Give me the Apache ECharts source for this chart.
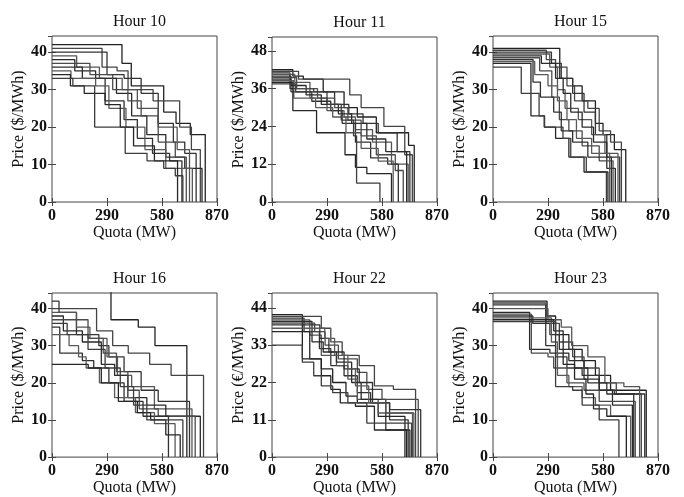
<!DOCTYPE html>
<html>
<head>
<meta charset="utf-8">
<script src="https://cdn.jsdelivr.net/npm/echarts@6/dist/echarts.min.js"></script>
<style>html,body{margin:0;padding:0;background:#fff}#c{width:684px;height:497px}</style>
</head>
<body>
<div id="c"></div>
<script>
// ---- data (quota MW, price) : each curve is a list of step corners ----
const panelTitles = ['Hour 10', 'Hour 11', 'Hour 15', 'Hour 16', 'Hour 22', 'Hour 23'];
const yNames = ['Price ($/MWh)', 'Price ($/MWh)', 'Price ($/MWh)', 'Price ($/MWh)', 'Price (\u20AC/MWh)', 'Price ($/MWh)'];
const xTickInterval = 290;
const xMax = 870;
const yMaxes = [44.3, 52.4, 44.3, 44.2, 48.4, 44.2];
const yIntervals = [10, 12, 10, 10, 11, 10];

const hour10 = [
  [[0,42],[369,37],[418,31],[589,24],[654,21],[729,18],[808,0]],
  [[0,41],[264,36],[343,35],[401,30],[533,27],[673,20],[735,14],[782,0]],
  [[0,40],[290,34],[380,33],[470,29],[560,21],[640,16],[700,13],[760,0]],
  [[0,39],[130,36],[250,33],[370,30],[450,25],[560,20],[660,14],[725,0]],
  [[0,38],[120,35],[230,33],[340,29],[420,23],[500,18],[600,12],[700,9],[791,0]],
  [[0,37],[200,34],[320,30],[400,27],[470,23],[560,16],[650,12],[708,0]],
  [[0,36],[160,33],[280,27],[380,22],[450,17],[530,13],[620,11],[685,0]],
  [[0,35],[100,33],[230,31],[300,25],[390,20],[490,14],[600,9],[740,0]],
  [[0,34],[97,31],[170,29],[280,26],[360,20],[430,15],[540,11],[662,0]],
  [[0,33],[110,31],[225,20],[386,13],[501,11],[589,9],[650,7],[690,0]]
];
const hour11 = [
  [[0,42],[110,40],[165,39],[270,35],[380,30],[450,27],[550,22],[720,18],[750,0]],
  [[0,41.5],[140,39],[410,34],[470,30],[590,24],[700,15],[740,0]],
  [[0,41],[95,36],[220,35],[330,31],[405,28],[480,25],[560,22],[660,16],[727,0]],
  [[0,40.5],[120,38],[200,33],[290,29],[380,27],[440,23],[530,19],[630,12],[718,0]],
  [[0,40],[100,37],[180,34],[260,31],[350,28],[420,25],[500,20],[600,16],[710,0]],
  [[0,39.5],[130,36],[240,33],[330,30],[400,26],[470,21],[550,15],[650,10],[692,0]],
  [[0,39],[100,35],[210,32],[310,29],[370,25],[440,19],[520,14],[610,12],[666,0]],
  [[0,38.5],[115,33],[230,30],[320,27],[390,22],[470,17],[560,13],[639,0]],
  [[0,38],[110,29],[235,22],[385,15],[440,11],[500,9],[630,0]],
  [[0,37.5],[125,35],[290,31],[365,26],[430,21],[446,6],[569,0]]
];
const hour15 = [
  [[0,41],[352,33],[420,31],[470,27],[540,21],[580,18],[640,14],[700,0]],
  [[0,40.5],[281,38],[330,36],[390,31],[430,27],[500,25],[560,19],[620,16],[677,0]],
  [[0,40],[308,37],[360,33],[420,29],[480,24],[540,18],[600,12],[668,0]],
  [[0,39.5],[299,36],[340,30],[380,25],[450,22],[520,18],[590,13],[659,0]],
  [[0,39],[255,37],[330,33],[370,29],[410,24],[470,20],[530,16],[600,9],[645,0]],
  [[0,38.5],[246,35],[310,28],[350,22],[400,19],[470,15],[560,11],[633,0]],
  [[0,38],[211,32],[250,28],[320,24],[360,19],[420,16],[500,12],[624,0]],
  [[0,37.5],[220,34],[290,31],[340,27],[390,22],[440,17],[520,13],[615,0]],
  [[0,37],[200,23],[270,20],[330,17],[400,12],[480,8],[606,0]],
  [[0,36],[149,29],[243,23],[272,20],[369,17],[410,12],[492,8],[598,0]]
];
const hour16 = [
  [[0,46],[311,37],[455,35],[543,30],[711,0]],
  [[0,40],[235,34],[320,30],[402,28],[515,25],[628,22],[799,0]],
  [[0,42],[37,39],[129,33],[247,30],[300,27],[380,23],[470,18],[560,15],[725,0]],
  [[0,39],[129,35],[200,32],[290,27],[345,22],[420,19],[540,13],[738,0]],
  [[0,38],[60,34],[160,31],[260,25],[330,22],[400,16],[500,14],[600,11],[782,0]],
  [[0,37],[190,32],[270,28],[340,23],[400,18],[460,13],[560,11],[755,0]],
  [[0,35],[41,28],[160,26],[220,24],[300,20],[380,15],[480,11],[614,0]],
  [[0,33],[90,30],[140,27],[180,24],[250,20],[330,16],[440,12],[540,9],[649,0]],
  [[0,25],[191,24],[260,20],[350,15],[450,12],[520,10],[600,6],[676,0]],
  [[0,36],[80,33],[190,29],[280,24],[360,19],[430,14],[500,10],[690,0]]
];
const hour22 = [
  [[0,42],[160,29],[260,26],[320,22],[390,18],[450,16],[560,12],[701,0]],
  [[0,41.5],[260,38],[310,34],[370,30],[460,27],[540,21],[640,20],[757,0]],
  [[0,41],[169,37],[250,32],[310,27],[380,24],[450,19],[520,16],[620,14],[784,0]],
  [[0,40.5],[199,36],[260,30],[340,27],[400,23],[450,17],[560,13],[741,0]],
  [[0,40],[211,34],[270,31],[340,28],[420,22],[470,17],[600,8],[727,0]],
  [[0,39.5],[225,37],[280,33],[350,29],[450,25],[500,20],[580,17],[771,0]],
  [[0,39],[252,35],[300,31],[380,26],[460,22],[530,16],[620,11],[718,0]],
  [[0,38],[278,35],[330,30],[400,26],[440,21],[510,16],[600,13],[748,0]],
  [[0,37],[199,29],[260,24],[310,20],[360,16],[440,15],[540,8],[710,0]],
  [[0,33],[160,28],[220,24],[260,21],[320,19],[400,16],[500,10],[736,0]]
];
const hour23 = [
  [[0,42],[285,38],[330,33],[400,29],[470,26],[540,22],[620,18],[808,0]],
  [[0,41.5],[280,36],[350,31],[420,27],[480,24],[560,20],[650,17],[782,0]],
  [[0,41],[278,30],[330,27],[390,24],[470,22],[560,18],[640,17],[800,0]],
  [[0,40],[290,37],[360,35],[415,30],[500,27],[590,20],[690,19],[773,0]],
  [[0,39],[193,29],[300,28],[400,26],[480,21],[560,18],[630,14],[735,0]],
  [[0,38.5],[202,28],[290,27],[320,24],[390,20],[480,18],[560,15],[750,0]],
  [[0,38],[210,36],[300,33],[350,29],[430,24],[500,20],[600,17],[742,0]],
  [[0,37.5],[308,31],[340,22],[400,19],[470,16],[540,14],[620,11],[726,0]],
  [[0,37],[320,34],[370,25],[430,21],[490,17],[530,13],[600,11],[703,0]],
  [[0,36.5],[330,19],[420,18],[470,14],[560,10],[664,0]]
];
const panels = [hour10, hour11, hour15, hour16, hour22, hour23];

// ---- layout ----
const gridPos = [
  {left: 52, top: 36, width: 165, height: 166},
  {left: 272, top: 37, width: 165, height: 165},
  {left: 493, top: 36, width: 165, height: 166},
  {left: 52, top: 293, width: 165, height: 167},
  {left: 272, top: 293, width: 165, height: 167},
  {left: 493, top: 293, width: 165, height: 167}
];
const FONT = '"Liberation Serif", "Times New Roman", serif';
const lineColors = ['#222', '#444', '#333', '#555', '#2a2a2a', '#4a4a4a', '#303030', '#595959', '#262626', '#3c3c3c'];

const grids = [], xAxes = [], yAxes = [], titles = [], series = [];
gridPos.forEach((g, i) => {
  grids.push(Object.assign({show: true, borderColor: '#444', borderWidth: 1, backgroundColor: 'transparent'}, g));
  titles.push({
    text: panelTitles[i], left: g.left + g.width / 2, top: g.top - 27, textAlign: 'center',
    textStyle: {fontFamily: FONT, fontSize: 16, fontWeight: 'normal', color: '#111'}
  });
  const tick = {show: true, inside: true, length: 4, lineStyle: {color: '#444'}};
  // bottom x
  xAxes.push({
    gridIndex: i, type: 'value', min: 0, max: xMax, interval: xTickInterval, position: 'bottom',
    axisLine: {show: false}, axisTick: tick, splitLine: {show: false},
    axisLabel: {fontFamily: FONT, fontSize: 16, fontWeight: 'bold', color: '#111', margin: 6},
    name: 'Quota (MW)', nameLocation: 'middle', nameGap: 19,
    nameTextStyle: {fontFamily: FONT, fontSize: 16, color: '#111'}
  });
  // top x mirror
  xAxes.push({
    gridIndex: i, type: 'value', min: 0, max: xMax, interval: xTickInterval, position: 'top',
    axisLine: {show: false}, axisTick: tick, splitLine: {show: false}, axisLabel: {show: false}
  });
  yAxes.push({
    gridIndex: i, type: 'value', min: 0, max: yMaxes[i], interval: yIntervals[i], position: 'left',
    axisLine: {show: false}, axisTick: tick, splitLine: {show: false},
    axisLabel: {fontFamily: FONT, fontSize: 16, fontWeight: 'bold', color: '#111', margin: 5, showMaxLabel: false},
    name: yNames[i], nameLocation: 'middle', nameGap: 19,
    nameTextStyle: {fontFamily: FONT, fontSize: 16, color: '#111'}
  });
  yAxes.push({
    gridIndex: i, type: 'value', min: 0, max: yMaxes[i], interval: yIntervals[i], position: 'right',
    axisLine: {show: false}, axisTick: tick, splitLine: {show: false}, axisLabel: {show: false}
  });
  panels[i].forEach((curve, k) => {
    series.push({
      type: 'line', step: 'end', xAxisIndex: 2 * i, yAxisIndex: 2 * i,
      data: curve, showSymbol: false, symbol: 'none', silent: true, clip: true,
      lineStyle: {color: lineColors[k % lineColors.length], width: 1.3}
    });
  });
});

const chart = echarts.init(document.getElementById('c'), null, {renderer: 'canvas'});
chart.setOption({
  animation: false,
  backgroundColor: '#fff',
  title: titles,
  grid: grids,
  xAxis: xAxes,
  yAxis: yAxes,
  series: series
});
</script>
</body>
</html>
